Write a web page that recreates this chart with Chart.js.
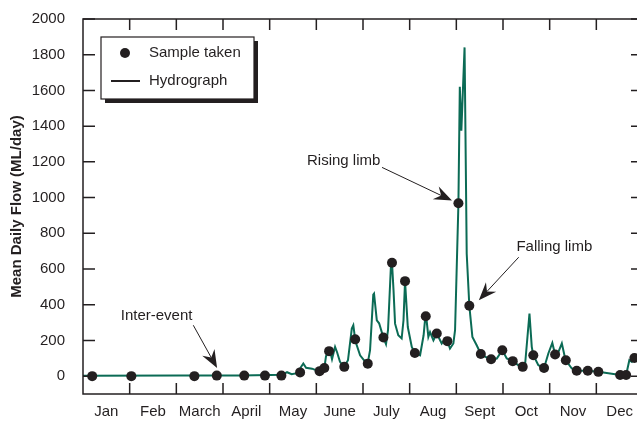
<!DOCTYPE html>
<html>
<head>
<meta charset="utf-8">
<script src="https://cdn.jsdelivr.net/npm/chart.js@4.4.1/dist/chart.umd.min.js"></script>
<style>
  html, body { margin: 0; padding: 0; overflow: hidden; background: #fff; }
  #wrap { position: relative; width: 650px; height: 423px; }
</style>
</head>
<body>
<div id="wrap"><canvas id="flowChart"></canvas></div>
<script>
// --- data (x = day of year, y = ML/day) ---
const monthLabels = ["Jan", "Feb", "March", "April", "May", "June", "July", "Aug", "Sept", "Oct", "Nov", "Dec"];
const yTicks = [0, 200, 400, 600, 800, 1000, 1200, 1400, 1600, 1800, 2000];

const hydroDays = [0, 63, 102, 122, 130, 133, 136, 139.5, 143.6, 145.4, 149.3, 153.5, 155.2, 157.3, 158.4, 160.4, 161.7, 162.3,
  164.3, 165.6, 167.5, 170.3, 172.7, 175.2, 176.2, 177.4, 178, 180.6, 183.2, 185.5, 187.1, 189.2, 189.7, 191.5, 193,
  195.8, 197.5, 198.8, 200.8, 201.4, 202.4, 203.4, 205.5, 207.7, 208.9, 209.9, 211.7, 214.3, 216.2, 219.7, 222, 223.4,
  225.1, 226.2, 228.4, 230.6, 233.8, 236, 237.5, 239.2, 241.4, 242.5, 244.7, 245.6, 246.6, 248.7, 250.1, 251.8, 253.8,
  256.6, 259.3, 263.2, 266, 269.7, 273.3, 276.2, 280.1, 283.8, 286.6, 288.1, 291, 292.5, 293.5, 296.8, 300.5, 303.3,
  305.9, 307.7, 309.9, 312.1, 313.8, 314.7, 318.6, 321.8, 329, 335.9, 350.1, 354, 356.1, 357.7, 359.4, 361.1, 365];
const hydroFlow = [2, 3, 4, 6, 8, 22, 11, 17, 71, 47, 42, 28, 34, 46, 112, 140, 117, 95,
  164, 134, 80, 52, 89, 266, 285, 206, 184, 117, 89, 69, 145, 456, 462, 313, 296,
  216, 179, 257, 637, 635, 480, 294, 229, 211, 313, 532, 275, 164, 130, 117, 229, 359,
  220, 247, 201, 239, 183, 211, 196, 155, 183, 257, 968, 1620, 1374, 1841, 685, 394, 220,
  173, 124, 104, 95, 99, 145, 99, 84, 61, 52, 61, 350, 164, 117, 61, 46, 127,
  186, 121, 136, 183, 117, 89, 43, 30, 30, 24, 6, 6, 89, 80, 102, 112, 120];

const sampleDays = [6, 31.5, 72.6, 87.2, 105.1, 118.6, 129.3, 141.5, 154.2, 157.3, 160.4, 170.3, 177.4, 185.6, 195.8,
  201.4, 209.9, 216.3, 223.4, 230.6, 237.5, 244.7, 251.8, 259.3, 266, 273.3, 280.1, 286.6, 293.5, 300.5, 307.7,
  314.7, 321.8, 329, 335.9, 350.1, 354, 359.4];
const sampleFlow = [0, 0, 0, 3, 3, 3, 3, 21, 28, 46, 140, 52, 206, 70, 216,
  635, 532, 130, 335, 239, 196, 968, 394, 124, 95, 145, 84, 52, 117, 46, 121,
  89, 30, 30, 24, 6, 6, 102];

const notes = [
  { text: "Inter-event", x: 24.6, y: 335, align: "left", from: [71.9, 285], to: [87.4, 45] },
  { text: "Rising limb", x: 193.8, y: 1203, align: "right", from: [194.9, 1169], to: [240.5, 983] },
  { text: "Falling limb", x: 282.5, y: 722, align: "left", from: [284, 666], to: [258, 425] }
];

const INK = "#231f20";
const FONT = "'Liberation Sans', Arial, Helvetica, sans-serif";
const monthLen = 365 / 12;

function arrow(ctx, x1, y1, x2, y2) {
  const a = Math.atan2(y2 - y1, x2 - x1);
  const len = 18, half = 7, notch = 12;
  ctx.beginPath();
  ctx.moveTo(x1, y1);
  ctx.lineTo(x2 - Math.cos(a) * notch, y2 - Math.sin(a) * notch);
  ctx.stroke();
  ctx.save();
  ctx.translate(x2, y2);
  ctx.rotate(a);
  ctx.beginPath();
  ctx.moveTo(0, 0);
  ctx.lineTo(-len, -half);
  ctx.lineTo(-notch, 0);
  ctx.lineTo(-len, half);
  ctx.closePath();
  ctx.fill();
  ctx.restore();
}

const decorations = {
  id: "decorations",
  afterDraw(chart) {
    const { ctx, chartArea: ca, scales } = chart;
    const xs = scales.x, ys = scales.y;
    ctx.save();
    ctx.strokeStyle = INK;
    ctx.fillStyle = INK;

    // frame + inward ticks
    ctx.lineWidth = 1.5;
    ctx.strokeRect(ca.left, ca.top, ca.right - ca.left, ca.bottom - ca.top);
    ctx.beginPath();
    yTicks.forEach(v => {
      const y = ys.getPixelForValue(v);
      ctx.moveTo(ca.left, y); ctx.lineTo(ca.left + 12, y);
      ctx.moveTo(ca.right, y); ctx.lineTo(ca.right - 12, y);
    });
    for (let i = 1; i < 12; i++) {
      const x = xs.getPixelForValue(i * monthLen);
      ctx.moveTo(x, ca.top); ctx.lineTo(x, ca.top + 11);
      ctx.moveTo(x, ca.bottom); ctx.lineTo(x, ca.bottom - 11);
    }
    ctx.stroke();

    // annotations
    ctx.font = "15px " + FONT;
    ctx.textBaseline = "middle";
    ctx.lineWidth = 1;
    notes.forEach(n => {
      ctx.textAlign = n.align;
      ctx.fillText(n.text, xs.getPixelForValue(n.x), ys.getPixelForValue(n.y));
      arrow(ctx, xs.getPixelForValue(n.from[0]), ys.getPixelForValue(n.from[1]),
        xs.getPixelForValue(n.to[0]), ys.getPixelForValue(n.to[1]));
    });

    // legend box with drop shadow
    const bx = ca.left + 18, by = ca.top + 18, bw = 153, bh = 62;
    ctx.fillRect(bx + 4, by + 4, bw, bh);
    ctx.fillStyle = "#fff";
    ctx.fillRect(bx, by, bw, bh);
    ctx.lineWidth = 1.2;
    ctx.strokeRect(bx, by, bw, bh);
    ctx.fillStyle = INK;
    ctx.beginPath();
    ctx.arc(bx + 24, by + 16, 5, 0, Math.PI * 2);
    ctx.fill();
    ctx.lineWidth = 2;
    ctx.beginPath();
    ctx.moveTo(bx + 10, by + 44); ctx.lineTo(bx + 39, by + 44);
    ctx.stroke();
    ctx.textAlign = "left";
    ctx.fillText(chart.data.datasets[0].label, bx + 48, by + 16);
    ctx.fillText(chart.data.datasets[1].label, bx + 48, by + 44);
    ctx.restore();
  }
};

new Chart(document.getElementById("flowChart"), {
  type: "line",
  data: {
    datasets: [
      {
        label: "Sample taken",
        data: sampleDays.map((d, i) => ({ x: d, y: sampleFlow[i] })),
        showLine: false,
        pointRadius: 5,
        pointBackgroundColor: INK,
        pointBorderWidth: 0
      },
      {
        label: "Hydrograph",
        data: hydroDays.map((d, i) => ({ x: d, y: hydroFlow[i] })),
        borderColor: "#0b6b55",
        borderWidth: 2,
        pointRadius: 0,
        tension: 0
      }
    ]
  },
  options: {
    responsive: true,
    maintainAspectRatio: false,
    animation: false,
    layout: { padding: { left: 0, right: 7, top: 18, bottom: 0 } },
    plugins: { legend: { display: false }, tooltip: { enabled: false } },
    scales: {
      x: {
        type: "linear",
        min: 0,
        max: 365,
        grid: { display: false },
        border: { display: false },
        afterBuildTicks: s => { s.ticks = monthLabels.map((m, i) => ({ value: (i + 0.5) * monthLen })); },
        afterFit: s => { s.height = 29; },
        ticks: {
          autoSkip: false,
          maxRotation: 0,
          padding: 1,
          color: INK,
          font: { family: FONT, size: 15 },
          callback: (v, i) => monthLabels[i]
        }
      },
      y: {
        min: -100,
        max: 2000,
        grid: { display: false },
        border: { display: false },
        afterBuildTicks: s => { s.ticks = yTicks.map(v => ({ value: v })); },
        afterFit: s => { s.width = 83; },
        ticks: {
          padding: 10,
          color: INK,
          font: { family: FONT, size: 15 },
          callback: v => String(v)
        },
        title: {
          display: true,
          text: "Mean Daily Flow (ML/day)",
          color: INK,
          padding: { top: 8, bottom: 0 },
          font: { family: FONT, size: 15, weight: "bold" }
        }
      }
    }
  },
  plugins: [decorations]
});
</script>
</body>
</html>
